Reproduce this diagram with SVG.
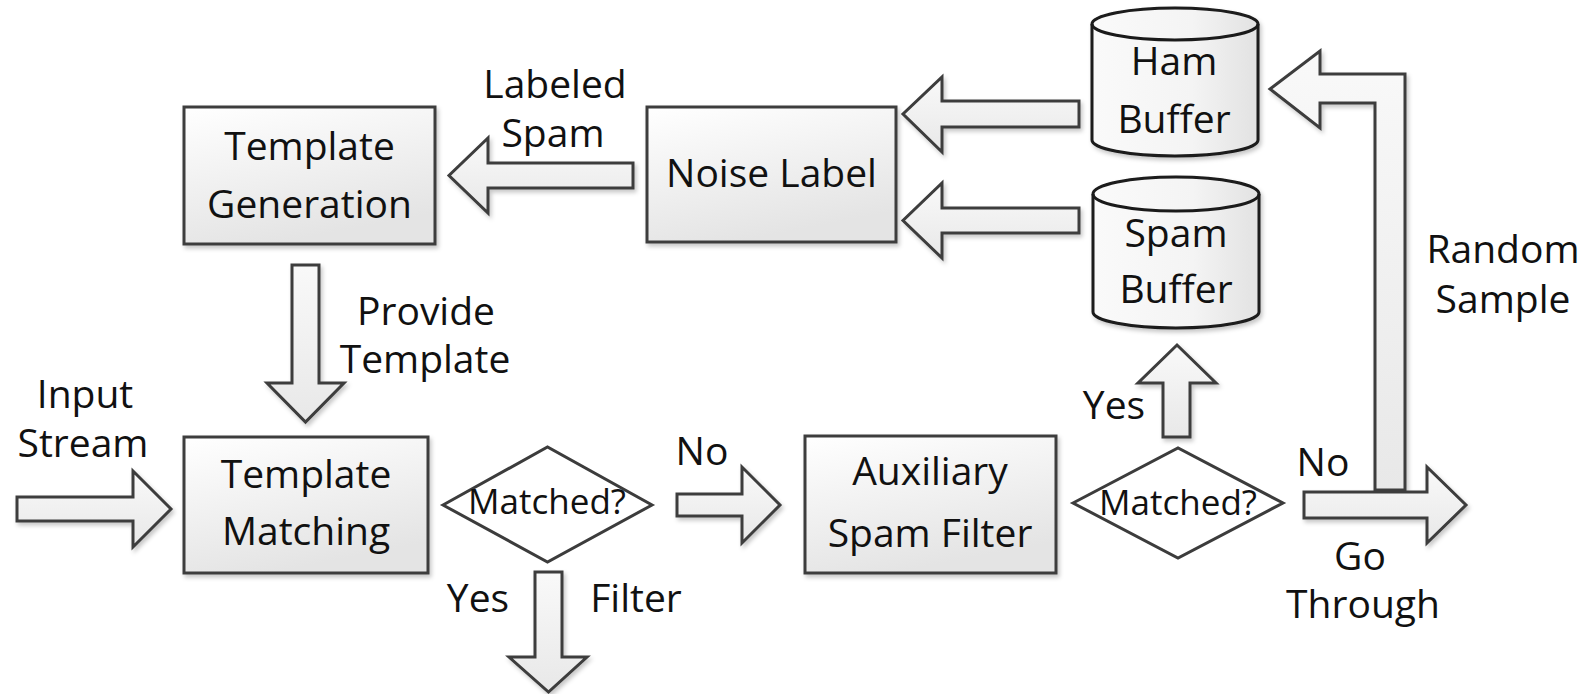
<svg xmlns="http://www.w3.org/2000/svg" width="1589" height="694" viewBox="0 0 1589 694">
  <defs>
    <linearGradient id="boxFill" x1="0" y1="0" x2="0.35" y2="1">
      <stop offset="0" stop-color="#ffffff"/>
      <stop offset="1" stop-color="#e4e4e4"/>
    </linearGradient>
    <linearGradient id="arrowFill" x1="0" y1="0" x2="0" y2="1">
      <stop offset="0" stop-color="#f9f9f9"/>
      <stop offset="1" stop-color="#e8e8e8"/>
    </linearGradient>
    <linearGradient id="cylFill" x1="0" y1="0" x2="1" y2="0">
      <stop offset="0" stop-color="#fafafa"/>
      <stop offset="0.6" stop-color="#f4f4f4"/>
      <stop offset="1" stop-color="#e2e2e2"/>
    </linearGradient>
    <filter id="shadow" x="-10%" y="-10%" width="125%" height="130%">
      <feDropShadow dx="2" dy="3" stdDeviation="2" flood-color="#000" flood-opacity="0.22"/>
    </filter>
  </defs>
  <style>
    .box { fill: url(#boxFill); stroke: #3c3c3c; stroke-width: 3; filter: url(#shadow); }
    .dia { fill: #ffffff; stroke: #3c3c3c; stroke-width: 3; }
    .cyl { fill: url(#cylFill); stroke: #1a1a1a; stroke-width: 3; filter: url(#shadow); }
    .cyl-rim { fill: none; stroke: #1a1a1a; stroke-width: 3; }
    .arrow { fill: url(#arrowFill); stroke: #3c3c3c; stroke-width: 3; stroke-linejoin: miter; filter: url(#shadow); }
    text { font-family: "Open Sans", "Noto Sans", "Liberation Sans", sans-serif; font-size: 39px; fill: #111111; text-anchor: middle; }
    .q { font-size: 35px; }
  </style>

  <rect width="1589" height="694" fill="#ffffff"/>

  <!-- flow arrows -->
  <g id="connectors">
    <!-- input stream -> template matching -->
    <polygon class="arrow" points="17,497 133,497 133,471 171,509 133,547 133,521 17,521"/>
    <!-- template generation -> template matching -->
    <polygon class="arrow" points="292,265 319,265 319,383 344,383 305.5,422 267,383 292,383"/>
    <!-- noise label -> template generation -->
    <polygon class="arrow" points="633,163 488,163 488,138 449,175.5 488,213 488,188 633,188"/>
    <!-- ham buffer -> noise label -->
    <polygon class="arrow" points="1079,101 942,101 942,77 903,114 942,152 942,127 1079,127"/>
    <!-- spam buffer -> noise label -->
    <polygon class="arrow" points="1079,208 942,208 942,183 903,220.5 942,258 942,233 1079,233"/>
    <!-- matched? no -> auxiliary filter -->
    <polygon class="arrow" points="677,494 742,494 742,467 780,505 742,543 742,516 677,516"/>
    <!-- matched? yes -> filter -->
    <polygon class="arrow" points="535,572 562,572 562,657 587,657 548.5,692 509,657 535,657"/>
    <!-- auxiliary matched? yes -> spam buffer -->
    <polygon class="arrow" points="1163,437 1163,383 1138,383 1177,345 1216,383 1190,383 1190,437"/>
    <!-- random sample loop back -> ham buffer -->
    <polygon class="arrow" points="1405,490 1405,74 1320,74 1320,51 1270,89 1320,128 1320,103 1375,103 1375,490"/>
    <!-- auxiliary matched? no -> go through -->
    <polygon class="arrow" points="1304,492 1427,492 1427,467 1466,505 1427,543 1427,518 1304,518"/>
  </g>

  <g id="template-generation">
    <rect class="box" x="184" y="107" width="251" height="137"/>
    <text x="309.5" y="160">Template</text>
    <text x="309.5" y="218">Generation</text>
  </g>

  <g id="template-matching">
    <rect class="box" x="184" y="437" width="244" height="136"/>
    <text x="306" y="488">Template</text>
    <text x="306" y="545">Matching</text>
  </g>

  <g id="noise-label">
    <rect class="box" x="647" y="107" width="249" height="135"/>
    <text x="771.5" y="187">Noise Label</text>
  </g>

  <g id="auxiliary-spam-filter">
    <rect class="box" x="805" y="436" width="251" height="137"/>
    <text x="930" y="485">Auxiliary</text>
    <text x="930" y="547">Spam Filter</text>
  </g>

  <g id="ham-buffer">
    <path class="cyl" d="M1092,24 A83,16 0 0 1 1258,24 L1258,140 A83,16 0 0 1 1092,140 Z"/>
    <path class="cyl-rim" d="M1092,24 A83,16 0 0 0 1258,24"/>
    <text x="1174" y="75">Ham</text>
    <text x="1174" y="133">Buffer</text>
  </g>

  <g id="spam-buffer">
    <path class="cyl" d="M1093,194 A83,17 0 0 1 1259,194 L1259,312 A83,16 0 0 1 1093,312 Z"/>
    <path class="cyl-rim" d="M1093,194 A83,17 0 0 0 1259,194"/>
    <text x="1176" y="247">Spam</text>
    <text x="1176" y="303">Buffer</text>
  </g>

  <g id="matched-1">
    <polygon class="dia" points="443,505 547.5,447 652,505 547.5,562"/>
    <text class="q" x="547" y="514">Matched?</text>
  </g>

  <g id="matched-2">
    <polygon class="dia" points="1073,503 1178,448 1283,503 1178,558"/>
    <text class="q" x="1178" y="515">Matched?</text>
  </g>

  <!-- edge labels -->
  <g id="labels">
    <text x="85" y="408">Input</text>
    <text x="83" y="457">Stream</text>
    <text x="426" y="325">Provide</text>
    <text x="425" y="373">Template</text>
    <text x="555" y="98">Labeled</text>
    <text x="553" y="147">Spam</text>
    <text x="702" y="465">No</text>
    <text x="478" y="612">Yes</text>
    <text x="636" y="612">Filter</text>
    <text x="1114" y="419">Yes</text>
    <text x="1323" y="476">No</text>
    <text x="1503" y="263">Random</text>
    <text x="1503" y="313">Sample</text>
    <text x="1360" y="570">Go</text>
    <text x="1363" y="618">Through</text>
  </g>
</svg>
